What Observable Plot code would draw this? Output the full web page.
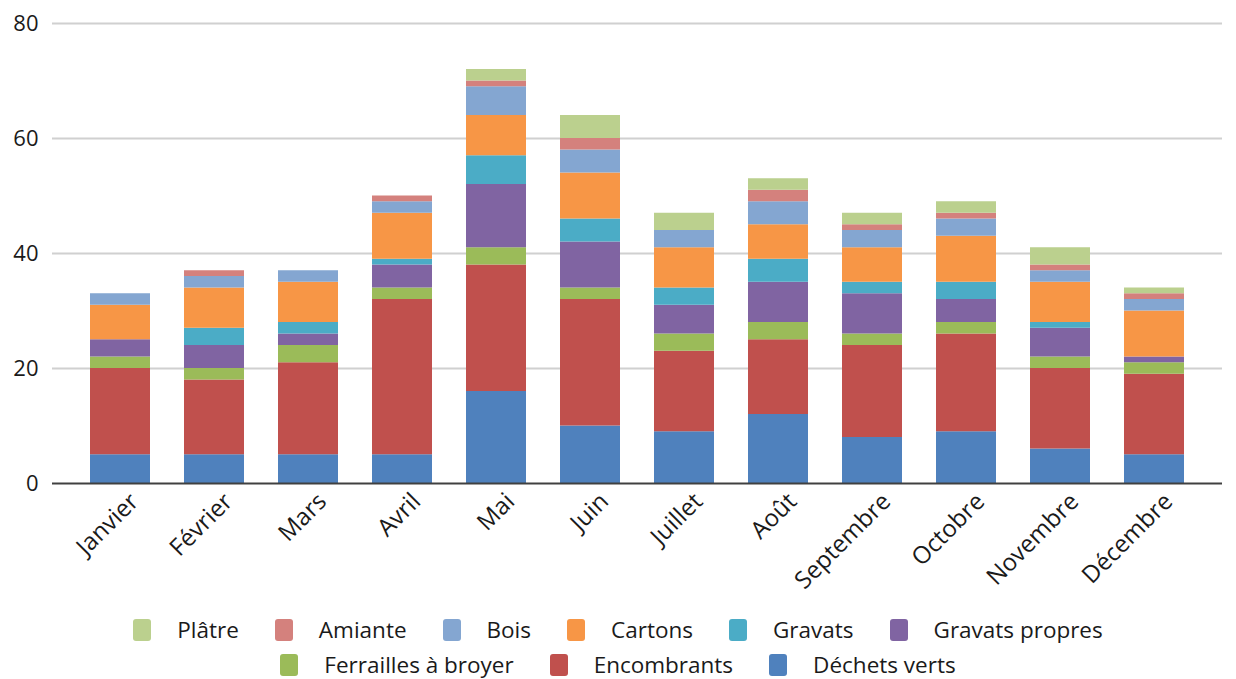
<!DOCTYPE html>
<html>
<head>
<meta charset="utf-8">
<script src="https://cdn.jsdelivr.net/npm/d3@7"></script>
<script src="https://cdn.jsdelivr.net/npm/@observablehq/plot@0.6"></script>
<style>
  html, body { margin: 0; padding: 0; background: #fff; }
  body { width: 1236px; height: 679px; overflow: hidden; font-family: "Open Sans", sans-serif; }
  #legend { display: flex; flex-direction: column; align-items: center; gap: 5px; margin-top: 10px; font-size: 22.5px; color: #1a1a1a; line-height: 30px; }
  .row { display: flex; justify-content: center; }
  .item { display: flex; align-items: center; margin: 0 18px; }
  .sw { width: 18px; height: 22px; border-radius: 3px; margin-right: 26px; }
</style>
</head>
<body>
<div id="chart"></div>
<div id="legend"></div>
<script>
const months = ["Janvier","Février","Mars","Avril","Mai","Juin","Juillet","Août","Septembre","Octobre","Novembre","Décembre"];
const seriesNames = ["Déchets verts","Encombrants","Ferrailles à broyer","Gravats propres","Gravats","Cartons","Bois","Amiante","Plâtre"];
const colors = ["#4F81BD","#C0504D","#9BBB59","#8064A2","#4BACC6","#F79646","#84A6D1","#D4817D","#BBD08E"];

const dechetsVerts     = [5, 5, 5, 5, 16, 10, 9, 12, 8, 9, 6, 5];
const encombrants      = [15, 13, 16, 27, 22, 22, 14, 13, 16, 17, 14, 14];
const ferrailles       = [2, 2, 3, 2, 3, 2, 3, 3, 2, 2, 2, 2];
const gravatsPropres   = [3, 4, 2, 4, 11, 8, 5, 7, 7, 4, 5, 1];
const gravats          = [0, 3, 2, 1, 5, 4, 3, 4, 2, 3, 1, 0];
const cartons          = [6, 7, 7, 8, 7, 8, 7, 6, 6, 8, 7, 8];
const bois             = [2, 2, 2, 2, 5, 4, 3, 4, 3, 3, 2, 2];
const amiante          = [0, 1, 0, 1, 1, 2, 0, 2, 1, 1, 1, 1];
const platre           = [0, 0, 0, 0, 2, 4, 3, 2, 2, 2, 3, 1];

const yTicks = [0, 20, 40, 60, 80];

const legendRows = [
  ["Plâtre","Amiante","Bois","Cartons","Gravats","Gravats propres"],
  ["Ferrailles à broyer","Encombrants","Déchets verts"]
];

const seriesValues = [dechetsVerts, encombrants, ferrailles, gravatsPropres, gravats, cartons, bois, amiante, platre];
const data = [];
seriesNames.forEach((s, i) => {
  months.forEach((m, j) => data.push({month: m, series: s, value: seriesValues[i][j]}));
});

const chart = Plot.plot({
  width: 1236,
  height: 605,
  marginLeft: 52,
  marginRight: 14,
  marginTop: 23,
  marginBottom: 122,
  style: {fontFamily: "'Open Sans', sans-serif", fontSize: "22px", color: "#1a1a1a"},
  x: {domain: months, label: null, padding: 0.36},
  y: {domain: [0, 80], label: null},
  color: {domain: seriesNames, range: colors},
  marks: [
    Plot.gridY(yTicks.slice(1), {stroke: "#d0d0d0", strokeOpacity: 1, strokeWidth: 2}),
    Plot.barY(data, {x: "month", y: "value", fill: "series", order: seriesNames, inset: 0}),
    Plot.ruleY([0], {stroke: "#404040", strokeWidth: 2}),
    Plot.axisY(yTicks, {tickSize: 0, tickPadding: 14, label: null, fontSize: 22}),
    Plot.axisX({tickSize: 0, tickRotate: -45, tickPadding: 14, dx: 14, label: null, fontSize: 24})
  ]
});
document.getElementById("chart").appendChild(chart);

const legend = document.getElementById("legend");
legendRows.forEach(row => {
  const r = document.createElement("div");
  r.className = "row";
  row.forEach(name => {
    const it = document.createElement("div");
    it.className = "item";
    const sw = document.createElement("div");
    sw.className = "sw";
    sw.style.background = colors[seriesNames.indexOf(name)];
    const t = document.createElement("span");
    t.textContent = name;
    it.appendChild(sw); it.appendChild(t);
    r.appendChild(it);
  });
  legend.appendChild(r);
});
</script>
</body>
</html>
